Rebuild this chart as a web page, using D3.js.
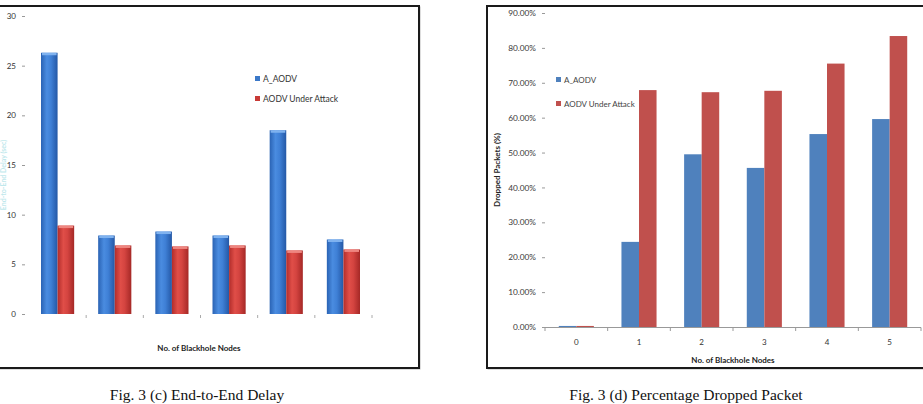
<!DOCTYPE html>
<html>
<head>
<meta charset="utf-8">
<script src="https://cdn.jsdelivr.net/npm/d3@7"></script>
<style>
  html, body { margin: 0; padding: 0; background: #fff; }
  svg { display: block; }
</style>
</head>
<body>
<svg id="c" width="923" height="404"></svg>
<script>
// ---- data ----
const categories = ["0", "1", "2", "3", "4", "5"];
const seriesNames = ["A_AODV", "AODV Under Attack"];
const delayAAODV = [26.3, 7.9, 8.3, 7.9, 18.5, 7.5];
const delayUnderAttack = [8.9, 6.9, 6.8, 6.9, 6.4, 6.5];
const dropAAODV = [0.003, 0.244, 0.495, 0.456, 0.553, 0.596];
const dropUnderAttack = [0.003, 0.679, 0.673, 0.677, 0.755, 0.834];
const delayTicks = [0, 5, 10, 15, 20, 25, 30];
const dropTicks = [0, 0.1, 0.2, 0.3, 0.4, 0.5, 0.6, 0.7, 0.8, 0.9];
const captionLeft = "Fig. 3 (c) End-to-End Delay";
const captionRight = "Fig. 3 (d) Percentage Dropped Packet";
const xTitle = "No. of Blackhole  Nodes";
const yTitleRight = "Dropped Packets (%)";
const yTitleLeft = "End-to-End Delay (sec)";

const svg = d3.select("#c");
const font = "Lato, 'Open Sans', sans-serif";

// gradients for left 3D-like bars
const defs = svg.append("defs");
function hgrad(id, stops) {
  const g = defs.append("linearGradient").attr("id", id).attr("x1", "0").attr("x2", "1").attr("y1", "0").attr("y2", "0");
  stops.forEach(s => g.append("stop").attr("offset", s[0]).attr("stop-color", s[1]));
}
hgrad("gBlue", [[0, "#2a63b4"], [0.35, "#4a8ce0"], [0.6, "#3f80d6"], [1, "#2458a6"]]);
hgrad("gRed", [[0, "#b22d2b"], [0.35, "#e04e48"], [0.6, "#d44440"], [1, "#a52826"]]);

// ---------- LEFT CHART ----------
const L = svg.append("g");
L.append("rect").attr("x", -6).attr("y", 7).attr("width", 426).attr("height", 362)
  .attr("fill", "none").attr("stroke", "#bbb").attr("stroke-width", 1);
L.append("rect").attr("x", -6).attr("y", 6).attr("width", 425).attr("height", 362)
  .attr("fill", "#fff").attr("stroke", "#1a1a1a").attr("stroke-width", 2);

const yL = d3.scaleLinear().domain([0, 30]).range([314, 16]);
const xL = d3.scaleBand().domain(categories).range([29, 372]).paddingInner(0.42).paddingOuter(0.21);
const xLs = d3.scaleBand().domain(seriesNames).range([0, xL.bandwidth()]);

// y axis
const yAxL = L.append("g").attr("transform", "translate(25,0)")
  .call(d3.axisLeft(yL).tickValues(delayTicks).tickSize(3).tickPadding(6));
yAxL.select(".domain").remove();
yAxL.selectAll("line").attr("stroke", "#999");
yAxL.selectAll("text").attr("font-family", font).attr("font-size", 8).attr("fill", "#333");

// x tick marks at band boundaries
const boundL = categories.map((c, i) => xL(c) - xL.step() * 0.21 + xL.step());
L.selectAll(".xt").data(boundL).enter().append("line")
  .attr("x1", d => d).attr("x2", d => d).attr("y1", 315).attr("y2", 318)
  .attr("stroke", "#aaa");

const seriesL = [delayAAODV, delayUnderAttack];
const fillsL = ["url(#gBlue)", "url(#gRed)"];
const capL = ["#7fb2ef", "#ee8680"];
seriesNames.forEach((s, si) => {
  const g = L.append("g");
  g.selectAll("rect.bar").data(seriesL[si]).enter().append("rect")
    .attr("x", (d, i) => xL(categories[i]) + xLs(s))
    .attr("y", d => yL(d))
    .attr("width", xLs.bandwidth())
    .attr("height", d => yL(0) - yL(d))
    .attr("fill", fillsL[si]);
  g.selectAll("rect.cap").data(seriesL[si]).enter().append("rect")
    .attr("x", (d, i) => xL(categories[i]) + xLs(s) + 1)
    .attr("y", d => yL(d))
    .attr("width", xLs.bandwidth() - 2)
    .attr("height", 2.5)
    .attr("fill", capL[si]);
});

L.append("text").attr("x", 199).attr("y", 351).attr("text-anchor", "middle")
  .attr("font-family", font).attr("font-size", 8).attr("font-weight", "bold").attr("fill", "#222")
  .text(xTitle);
L.append("text").attr("transform", "translate(6,175) rotate(-90)").attr("text-anchor", "middle")
  .attr("font-family", font).attr("font-size", 7).attr("font-weight", "bold").attr("fill", "#bfe8ec")
  .text(yTitleLeft);

// legend left
const legColors = ["#3b78c8", "#c83a36"];
seriesNames.forEach((s, i) => {
  L.append("rect").attr("x", 255).attr("y", 76 + i * 20).attr("width", 5).attr("height", 5).attr("fill", legColors[i]);
  L.append("text").attr("x", 263).attr("y", 82 + i * 20).attr("font-family", font).attr("font-size", 8.5)
    .attr("fill", "#333").text(s);
});

svg.append("text").attr("x", 197).attr("y", 400).attr("text-anchor", "middle")
  .attr("font-family", "'Liberation Serif', 'Times New Roman', serif").attr("font-size", 15.5).attr("fill", "#111")
  .text(captionLeft);

// ---------- RIGHT CHART ----------
const R = svg.append("g");
R.append("rect").attr("x", 488).attr("y", 7).attr("width", 440).attr("height", 362)
  .attr("fill", "none").attr("stroke", "#bbb").attr("stroke-width", 1);
R.append("rect").attr("x", 487).attr("y", 6).attr("width", 440).attr("height", 362)
  .attr("fill", "#fff").attr("stroke", "#1a1a1a").attr("stroke-width", 2);

const yR = d3.scaleLinear().domain([0, 0.9]).range([327, 13]);
const xR = d3.scaleBand().domain(categories).range([545, 921]).paddingInner(0.44).paddingOuter(0.22);
const xRs = d3.scaleBand().domain(seriesNames).range([0, xR.bandwidth()]);

const yAxR = R.append("g").attr("transform", "translate(545,0)")
  .call(d3.axisLeft(yR).tickValues(dropTicks).tickFormat(d3.format(".2%")).tickSize(3).tickPadding(6));
yAxR.select(".domain").remove();
yAxR.selectAll("line").attr("stroke", "#999");
yAxR.selectAll("text").attr("font-family", font).attr("font-size", 8.3).attr("fill", "#3a3a3a");

const seriesR = [dropAAODV, dropUnderAttack];
const fillsR = ["#4f81bd", "#c0504d"];
seriesNames.forEach((s, si) => {
  R.append("g").selectAll("rect").data(seriesR[si]).enter().append("rect")
    .attr("x", (d, i) => xR(categories[i]) + xRs(s))
    .attr("y", d => yR(d))
    .attr("width", xRs.bandwidth())
    .attr("height", d => yR(0) - yR(d))
    .attr("fill", fillsR[si]);
});

// x axis line + boundary ticks
R.append("line").attr("x1", 543).attr("x2", 921).attr("y1", 327.5).attr("y2", 327.5).attr("stroke", "#999");
const boundR = [0].concat(categories.map((c, i) => i + 1)).map(k => 545 + k * xR.step());
R.selectAll(".xt").data(boundR).enter().append("line")
  .attr("x1", d => d).attr("x2", d => d).attr("y1", 327.5).attr("y2", 331)
  .attr("stroke", "#999");
R.selectAll(".xl").data(categories).enter().append("text")
  .attr("x", d => xR(d) + xR.bandwidth() / 2).attr("y", 345).attr("text-anchor", "middle")
  .attr("font-family", font).attr("font-size", 8).attr("fill", "#333").text(d => d);

R.append("text").attr("x", 733).attr("y", 363).attr("text-anchor", "middle")
  .attr("font-family", font).attr("font-size", 8).attr("font-weight", "bold").attr("fill", "#222")
  .text(xTitle);
R.append("text").attr("transform", "translate(500,170) rotate(-90)").attr("text-anchor", "middle")
  .attr("font-family", font).attr("font-size", 8).attr("font-weight", "bold").attr("fill", "#222")
  .text(yTitleRight);

seriesNames.forEach((s, i) => {
  R.append("rect").attr("x", 556).attr("y", 77 + i * 24).attr("width", 5).attr("height", 5).attr("fill", fillsR[i]);
  R.append("text").attr("x", 564).attr("y", 83 + i * 24).attr("font-family", font).attr("font-size", 8)
    .attr("fill", "#444").text(s);
});

svg.append("text").attr("x", 686).attr("y", 400).attr("text-anchor", "middle")
  .attr("font-family", "'Liberation Serif', 'Times New Roman', serif").attr("font-size", 15.5).attr("fill", "#111")
  .text(captionRight);
</script>
</body>
</html>
